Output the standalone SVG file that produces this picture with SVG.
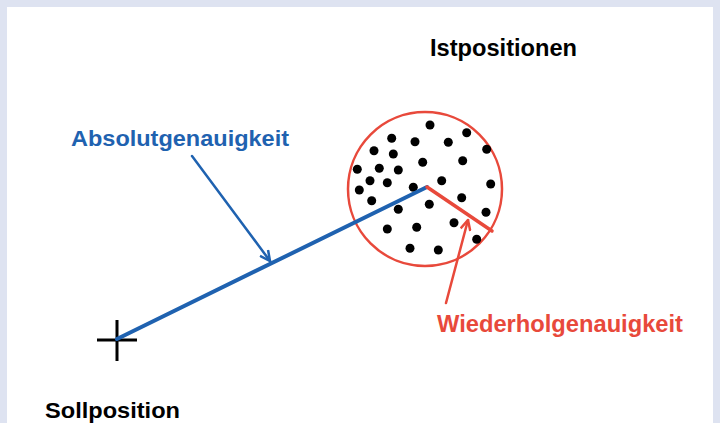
<svg xmlns="http://www.w3.org/2000/svg" width="720" height="423" viewBox="0 0 720 423">
<style>
text{font-family:"Liberation Sans",Arial,sans-serif;font-weight:bold}
.dot circle{fill:#000}
.blue{stroke:#1f62b0;fill:none;stroke-linecap:round}
.red{stroke:#e8493b;fill:none;stroke-linecap:round}
</style>
<defs>
<marker id="ab" viewBox="0 0 12 12" refX="11" refY="6" markerWidth="12" markerHeight="12" markerUnits="userSpaceOnUse" orient="auto"><path d="M1,1 L11,6 L1,11" fill="none" stroke="#1f62b0" stroke-width="2.5"/></marker>
<marker id="ar" viewBox="0 0 12 12" refX="11" refY="6" markerWidth="12" markerHeight="12" markerUnits="userSpaceOnUse" orient="auto"><path d="M1,1 L11,6 L1,11" fill="none" stroke="#e8493b" stroke-width="2.5"/></marker>
</defs>
<rect width="720" height="423" fill="#dee3f1"/>
<rect x="7" y="7" width="706" height="420" fill="#ffffff"/>
<g id="istpositionen">
<circle cx="425" cy="189" r="77" fill="none" stroke="#e8493b" stroke-width="2.5"/>
<g class="dot">
<circle cx="430" cy="125" r="4.5"/><circle cx="466.7" cy="132.7" r="4.5"/><circle cx="391.7" cy="138.3" r="4.5"/>
<circle cx="415" cy="141.7" r="4.5"/><circle cx="448.3" cy="142.3" r="4.5"/><circle cx="374" cy="150.7" r="4.5"/>
<circle cx="393.3" cy="154" r="4.5"/><circle cx="486.7" cy="149.3" r="4.5"/><circle cx="422.7" cy="162.3" r="4.5"/>
<circle cx="462.7" cy="160.7" r="4.5"/><circle cx="357.3" cy="169.3" r="4.5"/><circle cx="379.3" cy="168.3" r="4.5"/>
<circle cx="398.3" cy="170" r="4.5"/><circle cx="441.7" cy="180.7" r="4.5"/><circle cx="370" cy="180.7" r="4.5"/>
<circle cx="387.3" cy="182.7" r="4.5"/><circle cx="413.3" cy="187.3" r="4.5"/><circle cx="490.7" cy="184" r="4.5"/>
<circle cx="359.3" cy="190" r="4.5"/><circle cx="371.7" cy="200.7" r="4.5"/><circle cx="461.7" cy="197.7" r="4.5"/>
<circle cx="429.3" cy="204.3" r="4.5"/><circle cx="398.3" cy="209.3" r="4.5"/><circle cx="486" cy="212.3" r="4.5"/>
<circle cx="454" cy="222.7" r="4.5"/><circle cx="387.3" cy="229" r="4.5"/><circle cx="416.7" cy="227.3" r="4.5"/>
<circle cx="476.7" cy="239.3" r="4.5"/><circle cx="410" cy="248.3" r="4.5"/><circle cx="438.3" cy="250" r="4.5"/>
</g>
<text x="430" y="56" font-size="23" fill="#000" textLength="147" lengthAdjust="spacingAndGlyphs">Istpositionen</text>
</g>
<g id="sollposition">
<path d="M97,340 H137 M117,320 V361" stroke="#000" stroke-width="3" fill="none"/>
<text x="45" y="418" font-size="22" fill="#000" textLength="135" lengthAdjust="spacingAndGlyphs">Sollposition</text>
</g>
<g id="labels">
<text x="71" y="146" font-size="22" fill="#1f62b0" textLength="218" lengthAdjust="spacingAndGlyphs">Absolutgenauigkeit</text>
<text x="437" y="332" font-size="23" fill="#e8493b" textLength="246" lengthAdjust="spacingAndGlyphs">Wiederholgenauigkeit</text>
</g>
<g id="connectors">
<line class="blue" x1="117" y1="339" x2="427" y2="187" stroke-width="4"/>
<line class="red" x1="427" y1="187" x2="492" y2="231" stroke-width="3.5"/>
<line class="blue" x1="192" y1="156" x2="270" y2="261" stroke-width="2.5" marker-end="url(#ab)"/>
<line class="red" x1="446" y1="303" x2="468" y2="220" stroke-width="2.5" marker-end="url(#ar)"/>
</g>
</svg>
